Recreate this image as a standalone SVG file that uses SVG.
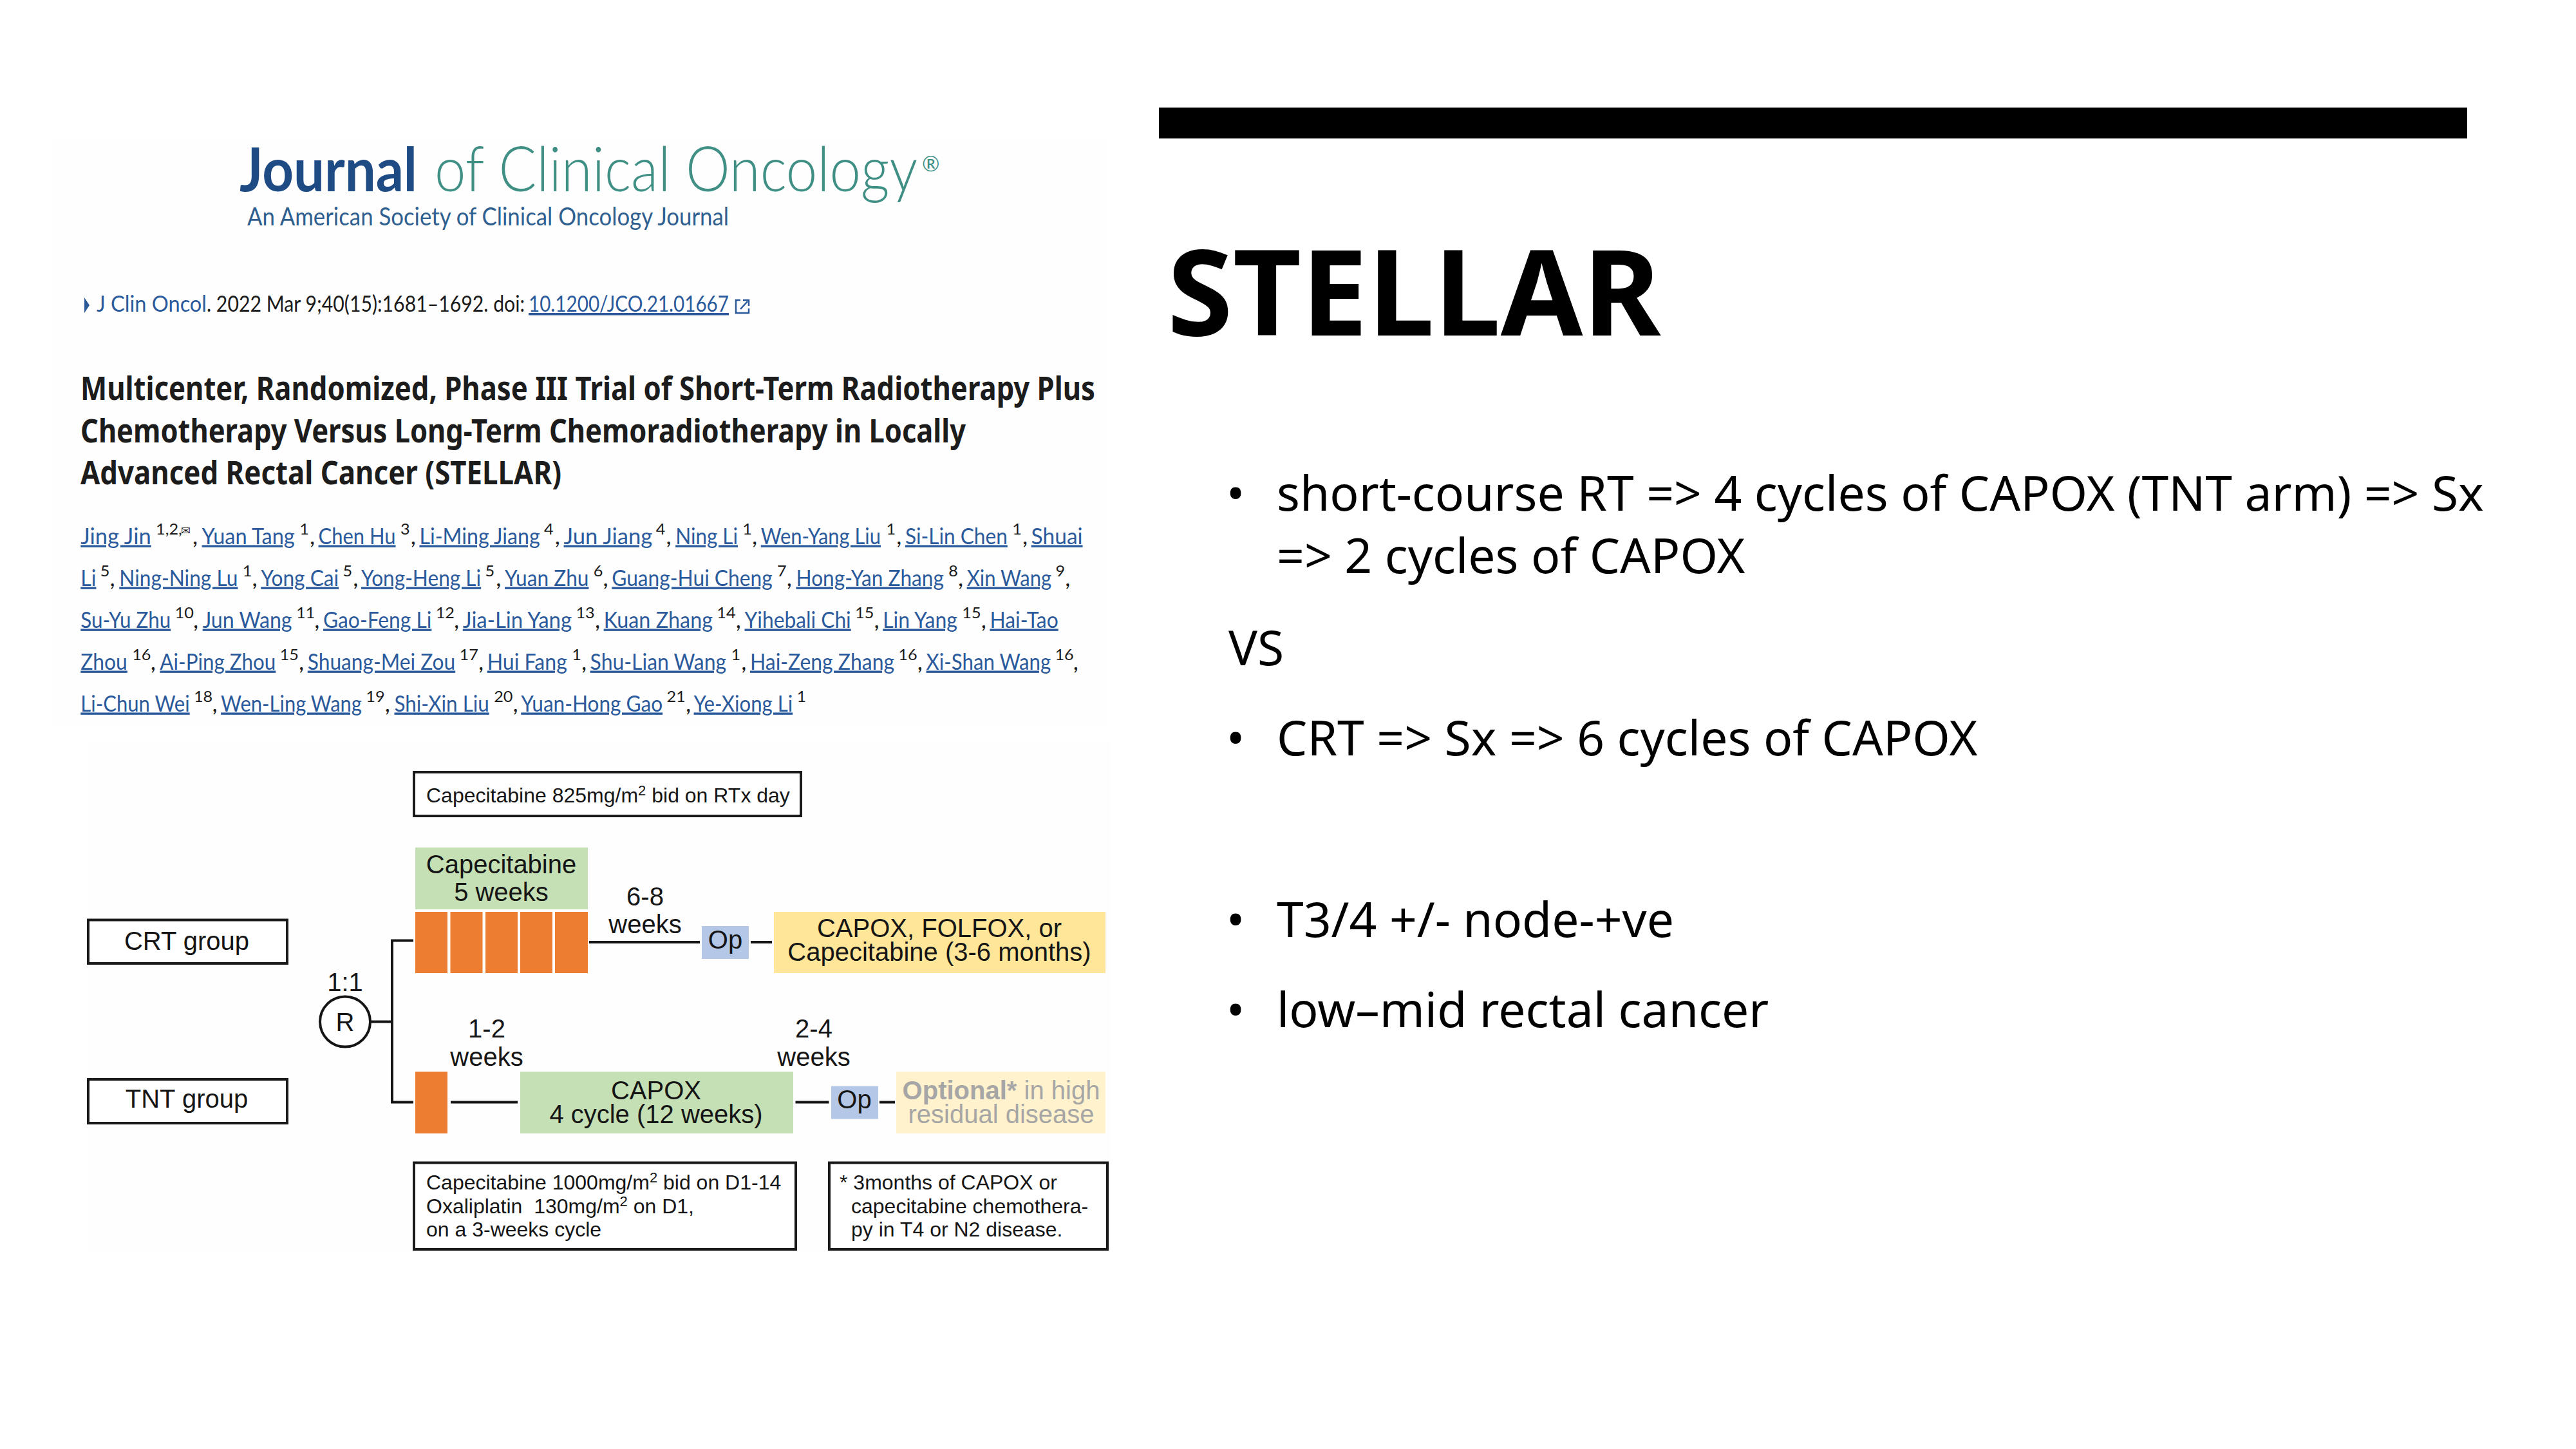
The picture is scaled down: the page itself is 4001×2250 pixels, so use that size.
<svg xmlns="http://www.w3.org/2000/svg" width="4001" height="2250" viewBox="0 0 4001 2250">
<style>
.b{fill:#fff;stroke:#1a1a1a;stroke-width:4}
.f{font-family:"Liberation Sans",Arial,sans-serif;fill:#151515;text-anchor:middle;font-size:40px}
.s{font-family:"Liberation Sans",Arial,sans-serif;fill:#151515;font-size:32px;white-space:pre}
.l{fill:none;stroke:#151515;stroke-width:4}
.o{fill:#ed7d31}.g{fill:#c5e0b4}.p{fill:#b4c7e7}
.a text{font-family:"Lato","Noto Sans",sans-serif;font-size:34px;fill:#1a1a1a}
.a .n{fill:#2a5a9b;text-decoration:underline;text-decoration-thickness:2.5px}
.a .u{font-size:24px}
.t{font-family:"Noto Sans","Open Sans",sans-serif;font-weight:700;font-size:50px;fill:#1c1c1c}
.c{font-family:"Lato","Noto Sans",sans-serif;font-size:35px;fill:#1a1a1a}
.m{font-family:"Noto Sans","Open Sans",sans-serif;font-size:75px;fill:#000}
</style>
<rect width="4001" height="2250" fill="#fff"/>
<rect x="80" y="215" width="1640" height="915" fill="#fefefe"/>
<rect x="135" y="1150" width="1590" height="793" fill="#fefefe"/>
<g id="journal-logo" font-family="Lato,'Noto Sans',sans-serif">
<text x="372" y="297" font-size="94" font-weight="700" fill="#1f4b84" textLength="276" lengthAdjust="spacingAndGlyphs">Journal</text>
<text x="675" y="297" font-size="97" font-weight="300" fill="#3f8f85" textLength="750" lengthAdjust="spacingAndGlyphs">of Clinical Oncology</text>
<text x="1432" y="266" font-size="33" fill="#3f8f85">®</text>
<text x="384" y="350" font-size="38" fill="#2f5f8f" textLength="748" lengthAdjust="spacingAndGlyphs">An American Society of Clinical Oncology Journal</text>
</g>
<g id="citation">
<polygon points="131,462 131,486 139,474" fill="#2a5a9b"/>
<text class="c" x="150" y="484" style="fill:#2a5a9b" textLength="171" lengthAdjust="spacingAndGlyphs">J Clin Oncol</text>
<text class="c" x="321" y="484" textLength="494" lengthAdjust="spacingAndGlyphs">. 2022 Mar 9;40(15):1681–1692. doi:</text>
<text class="c" x="821" y="484" style="fill:#2a5a9b;text-decoration:underline;text-decoration-thickness:2.5px" textLength="311" lengthAdjust="spacingAndGlyphs">10.1200/JCO.21.01667</text>
<path d="M1150 466h-7v20h20v-7 M1150 480l11-12 M1154 466h9v9" fill="none" stroke="#2a5a9b" stroke-width="2.5"/>
</g>
<g id="paper-title">
<text class="t" x="125" y="621" textLength="1576" lengthAdjust="spacingAndGlyphs">Multicenter, Randomized, Phase III Trial of Short-Term Radiotherapy Plus</text>
<text class="t" x="125" y="686.5" textLength="1375" lengthAdjust="spacingAndGlyphs">Chemotherapy Versus Long-Term Chemoradiotherapy in Locally</text>
<text class="t" x="125" y="751.5" textLength="747" lengthAdjust="spacingAndGlyphs">Advanced Rectal Cancer (STELLAR)</text>
</g>
<g id="authors" class="a">
<g transform="translate(100,844.5) scale(1.0523,1)">
<text class="n" x="24" textLength="104" lengthAdjust="spacingAndGlyphs">Jing Jin</text><text class="u" x="135" y="-15">1,2,</text><text x="172" y="-15" style="font-family:'DejaVu Sans';font-size:17px">✉</text><text x="189">,</text>
<text class="n" x="203" textLength="137" lengthAdjust="spacingAndGlyphs">Yuan Tang</text><text class="u" x="347" y="-15">1</text><text x="362">,</text>
<text class="n" x="375" textLength="114" lengthAdjust="spacingAndGlyphs">Chen Hu</text><text class="u" x="496" y="-15">3</text><text x="511">,</text>
<text class="n" x="524" textLength="178" lengthAdjust="spacingAndGlyphs">Li-Ming Jiang</text><text class="u" x="708" y="-15">4</text><text x="724">,</text>
<text class="n" x="737" textLength="131" lengthAdjust="spacingAndGlyphs">Jun Jiang</text><text class="u" x="873" y="-15">4</text><text x="888">,</text>
<text class="n" x="902" textLength="92" lengthAdjust="spacingAndGlyphs">Ning Li</text><text class="u" x="1001" y="-15">1</text><text x="1015">,</text>
<text class="n" x="1028" textLength="177" lengthAdjust="spacingAndGlyphs">Wen-Yang Liu</text><text class="u" x="1213" y="-15">1</text><text x="1228">,</text>
<text class="n" x="1241" textLength="151" lengthAdjust="spacingAndGlyphs">Si-Lin Chen</text><text class="u" x="1399" y="-15">1</text><text x="1414">,</text>
<text class="n" x="1427" textLength="76" lengthAdjust="spacingAndGlyphs">Shuai</text>
</g>
<g transform="translate(100,909.5) scale(1.0523,1)">
<text class="n" x="24" textLength="23" lengthAdjust="spacingAndGlyphs">Li</text><text class="u" x="53" y="-15">5</text><text x="67">,</text>
<text class="n" x="81" textLength="175" lengthAdjust="spacingAndGlyphs">Ning-Ning Lu</text><text class="u" x="263" y="-15">1</text><text x="277">,</text>
<text class="n" x="290" textLength="115" lengthAdjust="spacingAndGlyphs">Yong Cai</text><text class="u" x="411" y="-15">5</text><text x="426">,</text>
<text class="n" x="438" textLength="177" lengthAdjust="spacingAndGlyphs">Yong-Heng Li</text><text class="u" x="621" y="-15">5</text><text x="637">,</text>
<text class="n" x="650" textLength="124" lengthAdjust="spacingAndGlyphs">Yuan Zhu</text><text class="u" x="781" y="-15">6</text><text x="795">,</text>
<text class="n" x="808" textLength="237" lengthAdjust="spacingAndGlyphs">Guang-Hui Cheng</text><text class="u" x="1052" y="-15">7</text><text x="1066">,</text>
<text class="n" x="1080" textLength="218" lengthAdjust="spacingAndGlyphs">Hong-Yan Zhang</text><text class="u" x="1305" y="-15">8</text><text x="1319">,</text>
<text class="n" x="1332" textLength="125" lengthAdjust="spacingAndGlyphs">Xin Wang</text><text class="u" x="1463" y="-15">9</text><text x="1477">,</text>
</g>
<g transform="translate(100,974.5) scale(1.0523,1)">
<text class="n" x="24" textLength="133" lengthAdjust="spacingAndGlyphs">Su-Yu Zhu</text><text class="u" x="163" y="-15">10</text><text x="190">,</text>
<text class="n" x="204" textLength="132" lengthAdjust="spacingAndGlyphs">Jun Wang</text><text class="u" x="342" y="-15">11</text><text x="369">,</text>
<text class="n" x="382" textLength="160" lengthAdjust="spacingAndGlyphs">Gao-Feng Li</text><text class="u" x="548" y="-15">12</text><text x="575">,</text>
<text class="n" x="588" textLength="161" lengthAdjust="spacingAndGlyphs">Jia-Lin Yang</text><text class="u" x="755" y="-15">13</text><text x="783">,</text>
<text class="n" x="796" textLength="161" lengthAdjust="spacingAndGlyphs">Kuan Zhang</text><text class="u" x="963" y="-15">14</text><text x="991">,</text>
<text class="n" x="1004" textLength="157" lengthAdjust="spacingAndGlyphs">Yihebali Chi</text><text class="u" x="1167" y="-15">15</text><text x="1195">,</text>
<text class="n" x="1208" textLength="110" lengthAdjust="spacingAndGlyphs">Lin Yang</text><text class="u" x="1325" y="-15">15</text><text x="1353">,</text>
<text class="n" x="1366" textLength="101" lengthAdjust="spacingAndGlyphs">Hai-Tao</text>
</g>
<g transform="translate(100,1039.5) scale(1.0523,1)">
<text class="n" x="24" textLength="69" lengthAdjust="spacingAndGlyphs">Zhou</text><text class="u" x="100" y="-15">16</text><text x="127">,</text>
<text class="n" x="141" textLength="171" lengthAdjust="spacingAndGlyphs">Ai-Ping Zhou</text><text class="u" x="318" y="-15">15</text><text x="346">,</text>
<text class="n" x="359" textLength="218" lengthAdjust="spacingAndGlyphs">Shuang-Mei Zou</text><text class="u" x="583" y="-15">17</text><text x="611">,</text>
<text class="n" x="624" textLength="118" lengthAdjust="spacingAndGlyphs">Hui Fang</text><text class="u" x="749" y="-15">1</text><text x="763">,</text>
<text class="n" x="776" textLength="201" lengthAdjust="spacingAndGlyphs">Shu-Lian Wang</text><text class="u" x="984" y="-15">1</text><text x="999">,</text>
<text class="n" x="1012" textLength="213" lengthAdjust="spacingAndGlyphs">Hai-Zeng Zhang</text><text class="u" x="1231" y="-15">16</text><text x="1259">,</text>
<text class="n" x="1272" textLength="184" lengthAdjust="spacingAndGlyphs">Xi-Shan Wang</text><text class="u" x="1462" y="-15">16</text><text x="1489">,</text>
</g>
<g transform="translate(100,1104.5) scale(1.0523,1)">
<text class="n" x="24" textLength="161" lengthAdjust="spacingAndGlyphs">Li-Chun Wei</text><text class="u" x="191" y="-15">18</text><text x="218">,</text>
<text class="n" x="231" textLength="208" lengthAdjust="spacingAndGlyphs">Wen-Ling Wang</text><text class="u" x="445" y="-15">19</text><text x="473">,</text>
<text class="n" x="487" textLength="140" lengthAdjust="spacingAndGlyphs">Shi-Xin Liu</text><text class="u" x="634" y="-15">20</text><text x="662">,</text>
<text class="n" x="674" textLength="209" lengthAdjust="spacingAndGlyphs">Yuan-Hong Gao</text><text class="u" x="889" y="-15">21</text><text x="917">,</text>
<text class="n" x="929" textLength="146" lengthAdjust="spacingAndGlyphs">Ye-Xiong Li</text><text class="u" x="1081" y="-15">1</text>
</g>
</g>
<g id="connectors">
<path class="l" d="M576 1586.5H609M642 1460.5H609V1711.5H642"/>
<path class="l" d="M915 1463H1087M1166 1463H1199M700 1711.5H804M1235.5 1711.5H1287.5M1366 1711.5H1390"/>
</g>
<g id="crt-group"><rect class="b" x="137" y="1428.5" width="309" height="67.5"/><text class="f" x="290" y="1475">CRT group</text></g>
<g id="tnt-group"><rect class="b" x="137" y="1676" width="309" height="68"/><text class="f" x="290" y="1720">TNT group</text></g>
<g id="randomise"><circle cx="536" cy="1586.5" r="39" fill="#fff" stroke="#151515" stroke-width="4"/><text class="f" x="536" y="1601">R</text><text class="f" x="536" y="1539">1:1</text></g>
<g id="cape-dose"><rect class="b" x="643" y="1199" width="601" height="68"/><text class="s" x="662" y="1246">Capecitabine 825mg/m<tspan font-size="22" dy="-11">2</tspan><tspan dy="11"> bid on RTx day</tspan></text></g>
<g id="cape-5w"><rect class="g" x="645" y="1316" width="268" height="96"/><text class="f" x="778.5" y="1356">Capecitabine</text><text class="f" x="778.5" y="1399">5 weeks</text></g>
<g id="crt-rt"><rect class="o" x="645" y="1416" width="50" height="95"/><rect class="o" x="699.5" y="1416" width="50" height="95"/><rect class="o" x="754" y="1416" width="50" height="95"/><rect class="o" x="808" y="1416" width="50" height="95"/><rect class="o" x="862" y="1416" width="51" height="95"/></g>
<g id="gap-6-8"><text class="f" x="1002" y="1406">6-8</text><text class="f" x="1002" y="1449">weeks</text></g>
<g id="op-crt"><rect class="p" x="1090" y="1438" width="73" height="51"/><text class="f" x="1126.5" y="1473">Op</text></g>
<g id="adjuvant"><rect x="1202" y="1416" width="515" height="95" fill="#ffe699"/><text class="f" x="1459" y="1454.5">CAPOX, FOLFOX, or</text><text class="f" x="1459" y="1492">Capecitabine (3-6 months)</text></g>
<g id="tnt-rt"><rect class="o" x="645" y="1664" width="50" height="96"/></g>
<g id="gap-1-2"><text class="f" x="756" y="1611">1-2</text><text class="f" x="756" y="1654.5">weeks</text></g>
<g id="capox"><rect class="g" x="808" y="1664" width="424" height="96"/><text class="f" x="1019" y="1706.5">CAPOX</text><text class="f" x="1019" y="1744">4 cycle (12 weeks)</text></g>
<g id="gap-2-4"><text class="f" x="1264" y="1611">2-4</text><text class="f" x="1264" y="1654.5">weeks</text></g>
<g id="op-tnt"><rect class="p" x="1291" y="1686.5" width="73" height="51"/><text class="f" x="1327" y="1721">Op</text></g>
<g id="optional"><rect x="1392" y="1664" width="325" height="96" fill="#fff2cc"/><text class="f" x="1555" y="1706.5" style="fill:#a6a6a6"><tspan font-weight="700">Optional*</tspan> in high</text><text class="f" x="1555" y="1744" style="fill:#a6a6a6">residual disease</text></g>
<g id="capox-dose"><rect class="b" x="643" y="1805.5" width="593" height="134.5"/>
<text class="s" x="662" y="1847">Capecitabine 1000mg/m<tspan font-size="22" dy="-11">2</tspan><tspan dy="11"> bid on D1-14</tspan></text>
<text class="s" x="662" y="1884">Oxaliplatin  130mg/m<tspan font-size="22" dy="-11">2</tspan><tspan dy="11"> on D1,</tspan></text>
<text class="s" x="662" y="1920">on a 3-weeks cycle</text></g>
<g id="footnote"><rect class="b" x="1288" y="1805.5" width="432" height="134.5"/>
<text class="s" x="1304" y="1847">* 3months of CAPOX or</text>
<text class="s" x="1322" y="1884">capecitabine chemothera-</text>
<text class="s" x="1322" y="1920">py in T4 or N2 disease.</text></g>
<g id="slide-right">
<rect x="1800" y="167" width="2032" height="48" fill="#000"/>
<text x="1813" y="521" font-family="'Noto Sans','Open Sans',sans-serif" font-weight="700" font-size="184.5" fill="#000">STELLAR</text>
<text class="m" x="1905" y="792.5">•</text><text class="m" x="1983" y="792.5">short-course RT =&gt; 4 cycles of CAPOX (TNT arm) =&gt; Sx</text>
<text class="m" x="1983" y="889.5">=&gt; 2 cycles of CAPOX</text>
<text class="m" x="1908" y="1032.5">VS</text>
<text class="m" x="1905" y="1172.5">•</text><text class="m" x="1983" y="1172.5">CRT =&gt; Sx =&gt; 6 cycles of CAPOX</text>
<text class="m" x="1905" y="1454.5">•</text><text class="m" x="1983" y="1454.5">T3/4 +/- node-+ve</text>
<text class="m" x="1905" y="1594.5">•</text><text class="m" x="1983" y="1594.5">low–mid rectal cancer</text>
</g>
</svg>
